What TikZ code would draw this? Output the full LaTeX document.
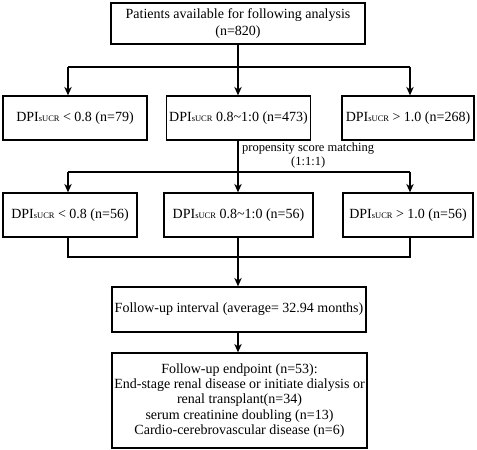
\documentclass[tikz,border=0pt]{standalone}
\usepackage{fontspec}
\setmainfont{Liberation Serif}
\usetikzlibrary{arrows.meta}
\newcommand{\dpi}{DPI{\fontsize{8.5}{9}\selectfont sUCR}}
\begin{document}
\begin{tikzpicture}[x=1pt,y=-1pt,
  box/.style={draw,line width=1.3pt,inner sep=0pt,align=center,font=\fontsize{14}{15.4}\selectfont},
  conn/.style={line width=1.1pt},
  arr/.style={conn,-{Stealth[length=8.5pt,width=7.5pt]}}]
\useasboundingbox (0,0) rectangle (477,450);
\node[box,minimum width=254pt,minimum height=41pt,font=\fontsize{14}{17}\selectfont] (top) at (238,23.5) {Patients available for following analysis\\(n=820)};
\node[box,minimum width=144pt,minimum height=44pt] (a1) at (75,118) {\dpi{} < 0.8 (n=79)};
\node[box,minimum width=144pt,minimum height=44pt] (b1) at (238.5,118) {\dpi{} 0.8\textasciitilde1:0 (n=473)};
\node[box,minimum width=132pt,minimum height=44pt] (c1) at (408,118) {\dpi{} > 1.0 (n=268)};
\node[box,minimum width=134pt,minimum height=44pt] (a2) at (70,215) {\dpi{} < 0.8 (n=56)};
\node[box,minimum width=149pt,minimum height=44pt] (b2) at (238.5,215) {\dpi{} 0.8\textasciitilde1:0 (n=56)};
\node[box,minimum width=130pt,minimum height=44pt] (c2) at (408,215) {\dpi{} > 1.0 (n=56)};
\node[box,minimum width=254pt,minimum height=45pt] (fu) at (239,309.5) {Follow-up interval (average= 32.94 months)};
\node[box,minimum width=255pt,minimum height=95pt] (ep) at (239.5,400.5) {Follow-up endpoint (n=53):\\End-stage renal disease or initiate dialysis or\\renal transplant(n=34)\\serum creatinine doubling (n=13)\\Cardio-cerebrovascular disease (n=6)};
\node[anchor=west,align=center,inner sep=0pt,font=\fontsize{12.5}{14.5}\selectfont] (psm) at (242,155.5) {propensity score matching\\(1:1:1)};
% coordinates
\coordinate (s1) at (238,67);
\coordinate (l1) at (68,67);
\coordinate (r1) at (410,67);
\coordinate (s2) at (238,172);
\coordinate (l2) at (68,172);
\coordinate (r2) at (410,172);
\coordinate (m) at (238,257);
\coordinate (lm) at (68,257);
\coordinate (rm) at (410,257);
% connectors
\draw[conn] (top.south -| s1) -- (s1);
\draw[conn] (l1) -- (r1);
\draw[arr] (l1) -- (l1 |- a1.north);
\draw[arr] (s1) -- (s1 |- b1.north);
\draw[arr] (r1) -- (r1 |- c1.north);
\draw[conn] (b1.south -| s2) -- (s2);
\draw[conn] (l2) -- (r2);
\draw[arr] (l2) -- (l2 |- a2.north);
\draw[arr] (s2) -- (s2 |- b2.north);
\draw[arr] (r2) -- (r2 |- c2.north);
\draw[conn] (a2.south -| lm) -- (lm) -- (rm) -- (rm |- c2.south);
\draw[conn] (b2.south -| m) -- (m);
\draw[arr] (m) -- (m |- fu.north);
\draw[arr] (fu.south -| m) -- (m |- ep.north);
\end{tikzpicture}
\end{document}
